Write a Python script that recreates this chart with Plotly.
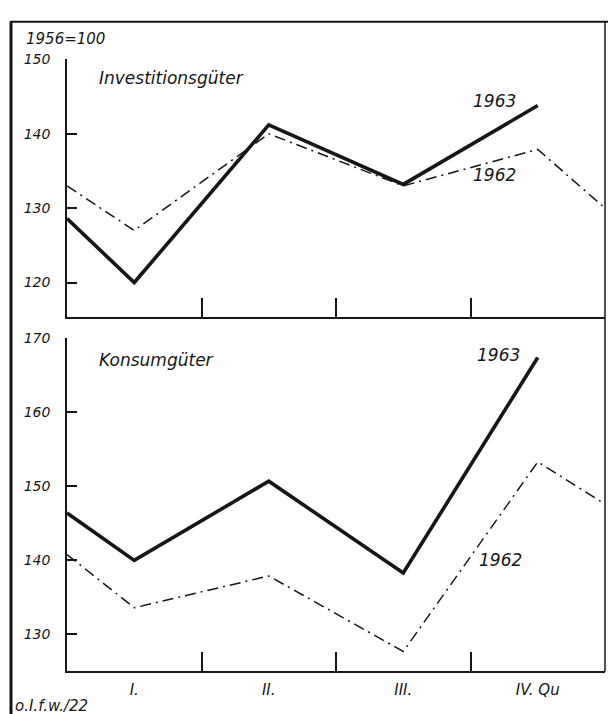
import plotly.graph_objs as go

#####################################################################################
########################                 data                  ######################
#####################################################################################
x_pos = [0.5, 1, 2, 3, 4, 4.5]          # quarter positions (0.5 / 4.5 = axis edges)
quarter_vals = [1, 2, 3, 4]
quarter_text = ['I.', 'II.', 'III.', 'IV. Qu']
between_vals = [1.5, 2.5, 3.5]

invest_1963 = [128.6, 120.0, 141.2, 133.2, 143.8]
invest_1962 = [133.0, 127.0, 140.0, 133.0, 137.9, 130.0]
konsum_1963 = [146.4, 140.0, 150.7, 138.3, 167.4]
konsum_1962 = [140.8, 133.6, 137.9, 127.7, 153.3, 147.6]

invest_ticks = [120, 130, 140, 150]
konsum_ticks = [130, 140, 150, 160, 170]

#####################################################################################
########################                 style                 ######################
#####################################################################################
W, H = 608, 714
ink = '#161616'
fam = 'DejaVu Sans'
solid = dict(color=ink, width=3.6)
dashdot = dict(color=ink, width=1.5, dash='11px,5px,2px,5px')


def px_x(p):
    return p / W


def px_y(p):
    return 1 - p / H


fig = go.Figure()

fig.add_trace(go.Scatter(x=x_pos[:5], y=invest_1963, mode='lines', line=solid, xaxis='x', yaxis='y'))
fig.add_trace(go.Scatter(x=x_pos, y=invest_1962, mode='lines', line=dashdot, xaxis='x', yaxis='y'))
fig.add_trace(go.Scatter(x=x_pos[:5], y=konsum_1963, mode='lines', line=solid, xaxis='x2', yaxis='y2'))
fig.add_trace(go.Scatter(x=x_pos, y=konsum_1962, mode='lines', line=dashdot, xaxis='x2', yaxis='y2'))

x_common = dict(
    range=[0.5, 4.5], showgrid=False, zeroline=False,
    showline=True, linecolor=ink, linewidth=1.5,
    domain=[px_x(67), px_x(605)],
    ticks='', tickmode='array',
    minor=dict(tickmode='array', tickvals=between_vals, ticks='inside',
               ticklen=20, tickwidth=1.5, tickcolor=ink),
)
y_common = dict(
    showgrid=False, zeroline=False,
    showline=True, linecolor=ink, linewidth=1.5,
    ticks='inside', ticklen=10, tickwidth=1.5, tickcolor=ink,
    tickmode='array', ticklabelstandoff=12,
    tickfont=dict(family=fam, size=14, color=ink, style='italic'),
)

fig.update_layout(
    width=W, height=H,
    margin=dict(l=0, r=0, t=0, b=0),
    paper_bgcolor='white', plot_bgcolor='white',
    showlegend=False,
    xaxis=dict(x_common, anchor='y', showticklabels=False, tickvals=quarter_vals),
    xaxis2=dict(x_common, anchor='y2', tickvals=quarter_vals, ticktext=quarter_text,
                ticklabelstandoff=4,
                tickfont=dict(family=fam, size=15, color=ink, style='italic')),
    yaxis=dict(y_common, anchor='x', range=[115.3, 150], tickvals=invest_ticks,
               domain=[px_y(313), px_y(52)]),
    yaxis2=dict(y_common, anchor='x2', range=[125, 170], tickvals=konsum_ticks,
                domain=[px_y(671), px_y(334)]),
)

# outer frame of the drawing
fig.add_shape(type='line', xref='paper', yref='paper', x0=px_x(10), x1=1,
              y0=px_y(14), y1=px_y(14), line=dict(color=ink, width=2))
fig.add_shape(type='line', xref='paper', yref='paper', x0=px_x(11), x1=px_x(11),
              y0=0, y1=px_y(14), line=dict(color=ink, width=3))
fig.add_shape(type='line', xref='paper', yref='paper', x0=px_x(605), x1=px_x(605),
              y0=px_y(671), y1=px_y(14), line=dict(color=ink, width=1.5))

# texts
italic = lambda s: dict(family=fam, size=s, color=ink, style='italic')
notes = [
    dict(text='1956=100', xref='paper', yref='paper', x=px_x(24), y=px_y(31), font=italic(15), xanchor='left'),
    dict(text='Investitionsgüter', xref='x', yref='y', x=0.72, y=147.5, font=italic(17), xanchor='left'),
    dict(text='1963', xref='x', yref='y', x=3.68, y=144.4, font=italic(17)),
    dict(text='1962', xref='x', yref='y', x=3.68, y=134.5, font=italic(17)),
    dict(text='Konsumgüter', xref='x2', yref='y2', x=0.72, y=167.0, font=italic(17), xanchor='left'),
    dict(text='1963', xref='x2', yref='y2', x=3.71, y=167.7, font=italic(17)),
    dict(text='1962', xref='x2', yref='y2', x=3.72, y=140.0, font=italic(17)),
    dict(text='o.I.f.w./22', xref='paper', yref='paper', x=px_x(13), y=px_y(706), font=italic(15), xanchor='left'),
]
for n in notes:
    n['showarrow'] = False
    n['yanchor'] = n.get('yanchor', 'middle')
    fig.add_annotation(**n)

# page margin off so the 608x714 figure fills the window
fig.write_html("out.html", config={'displayModeBar': False},
               post_script="document.body.style.margin='0';document.body.style.overflow='hidden';")
